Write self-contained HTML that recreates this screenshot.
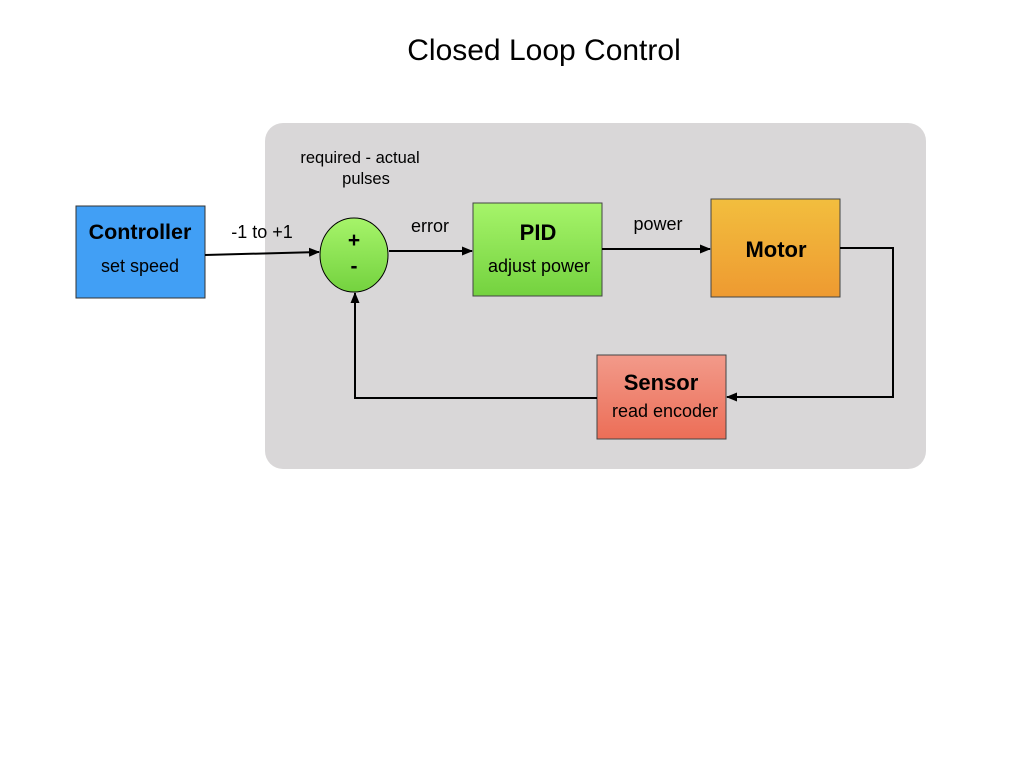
<!DOCTYPE html>
<html><head><style>body{margin:0;background:#fff}</style></head><body>
<svg width="1024" height="768" viewBox="0 0 1024 768" xmlns="http://www.w3.org/2000/svg" font-family="Liberation Sans, sans-serif">
<defs>
<linearGradient id="g" x1="0" y1="0" x2="0" y2="1"><stop offset="0" stop-color="#a6f46a"/><stop offset="1" stop-color="#74d23f"/></linearGradient>
<linearGradient id="o" x1="0" y1="0" x2="0" y2="1"><stop offset="0" stop-color="#f2be3e"/><stop offset="1" stop-color="#ee9a31"/></linearGradient>
<linearGradient id="r" x1="0" y1="0" x2="0" y2="1"><stop offset="0" stop-color="#f29a8a"/><stop offset="1" stop-color="#ec6e57"/></linearGradient>
<marker id="a" markerWidth="11" markerHeight="9" refX="10" refY="4.5" orient="auto" markerUnits="userSpaceOnUse"><path d="M0,0 L11,4.5 L0,9 z" fill="#000"/></marker>
</defs>
<text x="544" y="60" font-size="30" text-anchor="middle">Closed Loop Control</text>
<rect x="265" y="123" width="661" height="346" rx="18" fill="#d9d7d8"/>
<text x="360" y="163" font-size="16.5" text-anchor="middle">required - actual</text>
<text x="366" y="184" font-size="16.5" text-anchor="middle">pulses</text>
<rect x="76" y="206" width="129" height="92" fill="#419ff5" stroke="#333" stroke-width="1"/>
<text x="140" y="239" font-size="21.5" font-weight="bold" text-anchor="middle">Controller</text>
<text x="140" y="272" font-size="18" text-anchor="middle">set speed</text>
<ellipse cx="354" cy="255" rx="34" ry="37" fill="url(#g)" stroke="#000" stroke-width="1"/>
<text x="354" y="247" font-size="21" font-weight="bold" text-anchor="middle">+</text>
<text x="354" y="273" font-size="21" font-weight="bold" text-anchor="middle">-</text>
<rect x="473" y="203" width="129" height="93" fill="url(#g)" stroke="#444"/>
<text x="538" y="240" font-size="22" font-weight="bold" text-anchor="middle">PID</text>
<text x="539" y="272" font-size="18" text-anchor="middle">adjust power</text>
<rect x="711" y="199" width="129" height="98" fill="url(#o)" stroke="#444"/>
<text x="776" y="257" font-size="22" font-weight="bold" text-anchor="middle">Motor</text>
<rect x="597" y="355" width="129" height="84" fill="url(#r)" stroke="#444"/>
<text x="661" y="390" font-size="22" font-weight="bold" text-anchor="middle">Sensor</text>
<text x="665" y="417" font-size="18" text-anchor="middle">read encoder</text>
<text x="262" y="238" font-size="18" text-anchor="middle">-1 to +1</text>
<text x="430" y="232" font-size="18" text-anchor="middle">error</text>
<text x="658" y="230" font-size="18" text-anchor="middle">power</text>
<g stroke="#000" stroke-width="2" fill="none">
<line x1="205" y1="255" x2="319" y2="252" marker-end="url(#a)"/>
<line x1="389" y1="251" x2="472" y2="251" marker-end="url(#a)"/>
<line x1="602" y1="249" x2="710" y2="249" marker-end="url(#a)"/>
<polyline points="840,248 893,248 893,397 727,397" marker-end="url(#a)"/>
<polyline points="597,398 355,398 355,293" marker-end="url(#a)"/>
</g>
</svg>
</body></html>
